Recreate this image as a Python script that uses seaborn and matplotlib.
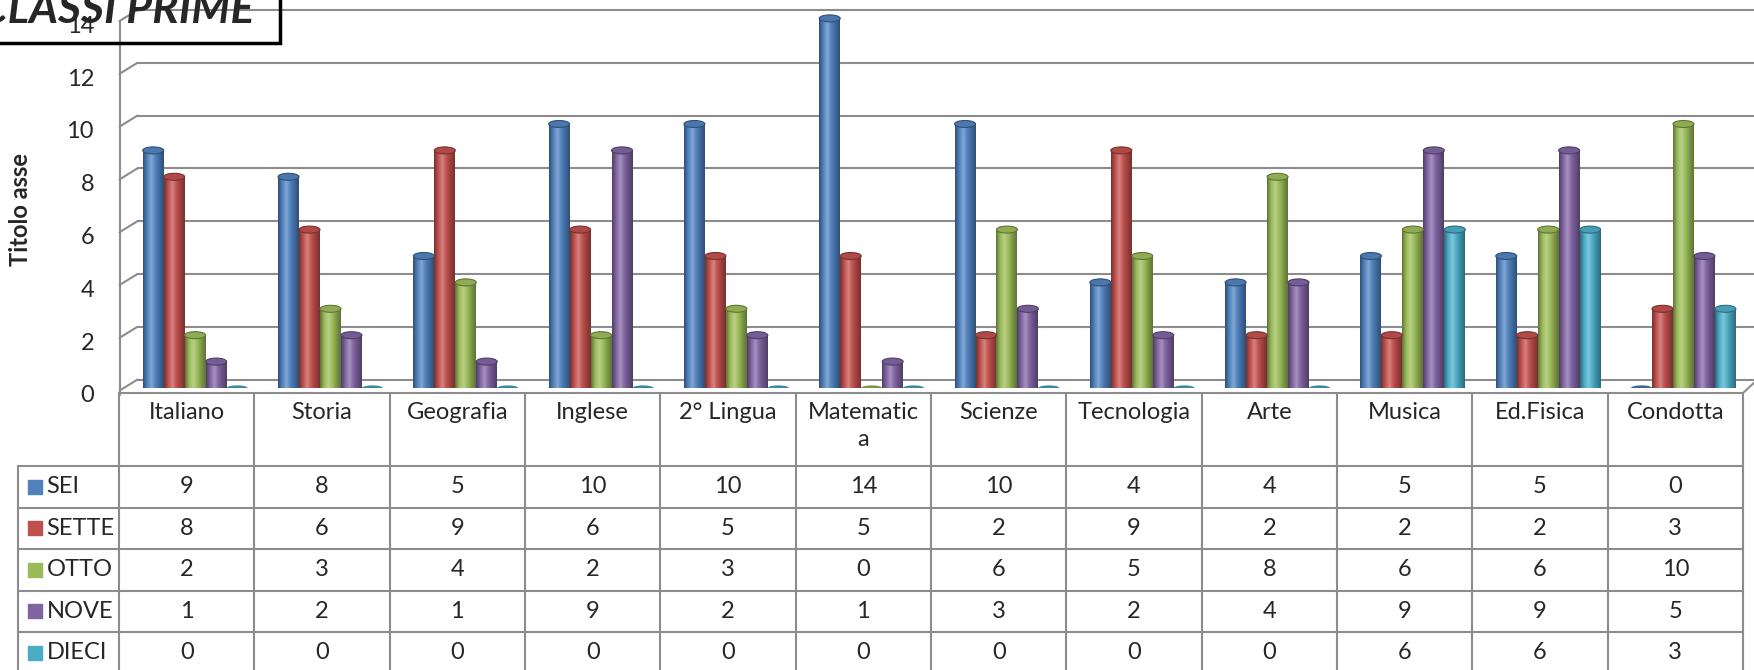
import matplotlib
matplotlib.use('Agg')
import matplotlib.pyplot as plt
import matplotlib.transforms as mtransforms
from matplotlib.patches import Ellipse, Rectangle
from matplotlib.colors import LinearSegmentedColormap, to_rgb
import seaborn as sns
import pandas as pd
import numpy as np

# dati
materie = ['Italiano', 'Storia', 'Geografia', 'Inglese', '2° Lingua', 'Matematica',
           'Scienze', 'Tecnologia', 'Arte', 'Musica', 'Ed.Fisica', 'Condotta']
etichette = ['Italiano', 'Storia', 'Geografia', 'Inglese', '2° Lingua', 'Matematic\na',
             'Scienze', 'Tecnologia', 'Arte', 'Musica', 'Ed.Fisica', 'Condotta']
voti = ['SEI', 'SETTE', 'OTTO', 'NOVE', 'DIECI']
sei = [9, 8, 5, 10, 10, 14, 10, 4, 4, 5, 5, 0]
sette = [8, 6, 9, 6, 5, 5, 2, 9, 2, 2, 2, 3]
otto = [2, 3, 4, 2, 3, 0, 6, 5, 8, 6, 6, 10]
nove = [1, 2, 1, 9, 2, 1, 3, 2, 4, 9, 9, 5]
dieci = [0, 0, 0, 0, 0, 0, 0, 0, 0, 6, 6, 3]
yticks = [0, 2, 4, 6, 8, 10, 12, 14]

colori = ['#4F81BD', '#C0504D', '#9BBB59', '#8064A2', '#4BACC6']
grigio = '#8c8c8c'

serie = [sei, sette, otto, nove, dieci]
rows = []
for v, vals in zip(voti, serie):
    for m, n in zip(materie, vals):
        rows.append({'materia': m, 'voto': v, 'n': n})
df = pd.DataFrame(rows)

sns.set_style('white')
plt.rcParams['font.family'] = ['Lato', 'DejaVu Sans']
fs = 17

W, H = 1754, 670
fig = plt.figure(figsize=(W / 100, H / 100), dpi=100)

# pixel helpers for axes placement
def box(x0, y0, x1, y1):
    return [x0 / W, 1 - y1 / H, (x1 - x0) / W, (y1 - y0) / H]

ppu = 135.3      # pixels per category
ypu = 26.4       # pixels per unit of value
ax = fig.add_axes(box(119, 388 - 14.4 * ypu, 1754, 388))
xl = -0.5 - 0.063
ax.set_xlim(xl, xl + (1754 - 119) / ppu)
ax.set_ylim(0, 14.4)

sns.barplot(data=df, x='materia', y='n', hue='voto', palette=colori, width=0.775,
            gap=0, legend=False, ax=ax, saturation=1, zorder=2, linewidth=0)

eh = 7 / ypu
for p in list(ax.patches):
    c = np.array(to_rgb(p.get_facecolor()))
    dark = c * 0.62
    light = c + (1 - c) * 0.3
    x0, w, h = p.get_x(), p.get_width(), p.get_height()
    if h > 0:
        cmap = LinearSegmentedColormap.from_list('cyl', [dark, c, light, c, c * 0.8, dark])
        im = ax.imshow(np.linspace(0, 1, 60).reshape(1, -1), extent=(x0, x0 + w, 0, h),
                       aspect='auto', cmap=cmap, zorder=2.1, origin='lower')
        im.set_clip_path(p)
        ax.add_patch(Ellipse((x0 + w / 2, 0), w, eh, facecolor=c * 0.75, lw=0, zorder=1.9))
        ax.add_patch(Ellipse((x0 + w / 2, h), w, eh, facecolor=c * 0.92,
                             edgecolor=dark, lw=0.8, zorder=2.2))
    else:
        ax.add_patch(Ellipse((x0 + w / 2, 0), w, eh * 0.75, facecolor=c * 0.8,
                             lw=0, zorder=2.2))
ax.set_xlim(xl, xl + (1754 - 119) / ppu)
ax.set_ylim(0, 14.4)

# pareti e griglia in finta prospettiva
xf = xl + 0.5 / ppu
xb = xf + 18 / ppu
for v in yticks:
    ax.plot([xf, xb], [v - 0.1, v + 0.32], color=grigio, lw=1.5, zorder=1, clip_on=False)
    ax.plot([xb, ax.get_xlim()[1]], [v + 0.32, v + 0.32], color=grigio, lw=1.5,
            zorder=1, clip_on=False)
ax.plot([xf, xf], [-0.25, 14 - 0.1], color=grigio, lw=1.5, zorder=1, clip_on=False)

ax.set_yticks(yticks)
ax.set_yticklabels([str(t) for t in yticks])
ax.tick_params(axis='y', length=0, pad=18, labelsize=fs)
off = mtransforms.ScaledTranslation(0, -0.06, fig.dpi_scale_trans)
for lab in ax.get_yticklabels():
    lab.set_transform(lab.get_transform() + off)
ax.set_xticks([])
ax.set_xlabel('')
ax.set_ylabel('')
for s in ax.spines.values():
    s.set_visible(False)
ax.patch.set_alpha(0)

# tabella dati
rh = 41.5
tab = fig.add_axes(box(18, 393, 1743, 670))
tab.set_xlim(-0.5 - 101 / ppu, 11.5)
htop = -73 / rh
tab.set_ylim(277 / rh - 73 / rh, htop)
tab.axis('off')
ncat = len(materie)
lw = 1.5
# linee orizzontali
tab.plot([-0.5, 11.5], [htop, htop], color=grigio, lw=lw, clip_on=False)
for r in range(len(voti) + 1):
    tab.plot([tab.get_xlim()[0], 11.5], [r, r], color=grigio, lw=lw, clip_on=False)
# linee verticali
for k in range(ncat + 1):
    tab.plot([k - 0.5, k - 0.5], [htop, 5.2], color=grigio, lw=lw, clip_on=False)
tab.plot([tab.get_xlim()[0]] * 2, [0, 5.2], color=grigio, lw=lw, clip_on=False)

for k, lab in enumerate(etichette):
    tab.text(k, htop + 9 / rh, lab, ha='center', va='top', fontsize=fs, linespacing=1.35)
xs = tab.get_xlim()[0] + 16.5 / ppu
for r, (v, vals, col) in enumerate(zip(voti, serie, colori)):
    tab.scatter([xs], [r + 0.5], marker='s', s=100, color=col, clip_on=False)
    tab.text(xs + 12 / ppu, r + 0.5, v, ha='left', va='center', fontsize=fs)
    for k, n in enumerate(vals):
        tab.text(k, r + 0.5, str(n), ha='center', va='center', fontsize=fs)

# spigolo destro del pavimento
fig.add_artist(plt.Line2D([1743 / W, 1756 / W], [1 - 393 / H, 1 - 381 / H],
                          color=grigio, lw=lw))

fig.text(21 / W, 1 - 210 / H, 'Titolo asse', rotation=90, ha='center', va='center',
         fontsize=17, fontweight='bold')

# titolo tagliato in alto a sinistra
fig.text(-20 / W, 1 - 23 / H, 'CLASSI PRIME', fontsize=32, fontweight='bold',
         fontstyle='italic', va='baseline', ha='left')
fig.add_artist(Rectangle((-0.01, 1 - 43 / H), 280 / W + 0.01, 0.2, transform=fig.transFigure,
                         fill=False, lw=2.5, edgecolor='black', clip_on=False))

fig.savefig('out.png', dpi=100)
